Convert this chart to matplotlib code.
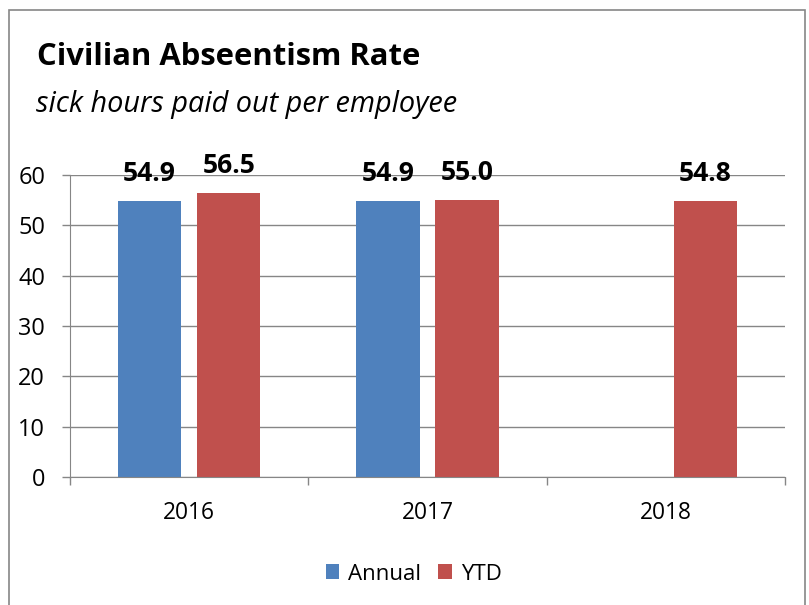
import matplotlib
matplotlib.use("Agg")
import matplotlib.pyplot as plt
from matplotlib.patches import Rectangle
import numpy as np

plt.rcParams['font.family'] = ['Open Sans', 'DejaVu Sans']

categories = ["2016", "2017", "2018"]
annual = [54.9, 54.9, None]
ytd = [56.5, 55.0, 54.8]
series_names = ["Annual", "YTD"]
colors = ["#4F81BD", "#C0504D"]
yticks = [0, 10, 20, 30, 40, 50, 60]

W, H = 809, 605
fig = plt.figure(figsize=(W/100, H/100), dpi=100)
renderer = fig.canvas.get_renderer()


def size_for(s, target_px, **kw):
    t = fig.text(0, 0, s, fontsize=20, **kw)
    w = t.get_window_extent(renderer).width
    t.remove()
    return 20 * target_px / w


fs_title = size_for("Civilian Abseentism Rate", 383, fontweight="bold")
fs_sub = size_for("sick hours paid out per employee", 421, style="italic")
fs_lab = size_for("54.9", 53, fontweight="bold")
fs_ytick = size_for("60", 27)
fs_xtick = size_for("2016", 52)
fs_leg = size_for("Annual", 73)

grey = "#868686"

# outer border
fig.patches.append(Rectangle((9/W, -0.01), (805-9)/W, (H-10)/H + 0.01,
                             transform=fig.transFigure, fill=False,
                             edgecolor=grey, linewidth=1.2))

ax = fig.add_axes([70/W, (H-477)/H, (785-70)/W, (477-175)/H])
x = np.arange(len(categories))
bw = 0.265
off = 0.166
for i, (vals, c) in enumerate(zip([annual, ytd], colors)):
    xs = [xi + (-off if i == 0 else off) for xi, v in zip(x, vals) if v is not None]
    vs = [v for v in vals if v is not None]
    bars = ax.bar(xs, vs, width=bw, color=c, label=series_names[i], zorder=2)
    for b, v in zip(bars, vs):
        ax.annotate(f"{v:.1f}", (b.get_x() + b.get_width()/2, v),
                    xytext=(0, 14.2), textcoords="offset points",
                    ha="center", va="baseline", fontsize=fs_lab, fontweight="bold",
                    zorder=3)

ax.set_xlim(-0.5, 2.5)
ax.set_ylim(0, 60)
ax.set_yticks(yticks)
ax.set_yticklabels([str(t) for t in yticks], fontsize=fs_ytick)
ax.yaxis.grid(True, color=grey, linewidth=1.0, zorder=1)
ax.set_axisbelow(True)
ax.set_xticks([-0.5, 0.5, 1.5, 2.5], minor=False)
ax.set_xticklabels([])
ax.set_xticks(x, minor=True)
ax.set_xticklabels(categories, minor=True, fontsize=fs_xtick)
ax.tick_params(axis="x", which="minor", length=0, pad=17)
ax.tick_params(axis="x", which="major", length=6, color=grey, width=1.0, direction="out")
ax.tick_params(axis="y", length=6, color=grey, width=1.0, direction="out", pad=12)
ax.spines["right"].set_visible(False)
ax.spines["top"].set_visible(False)
ax.spines["left"].set_color(grey)
ax.spines["bottom"].set_color(grey)

fig.text(37/W, 1 - 65/H, "Civilian Abseentism Rate", fontsize=fs_title, fontweight="bold",
         ha="left", va="baseline")
fig.text(36/W, 1 - 112/H, "sick hours paid out per employee", fontsize=fs_sub, style="italic",
         ha="left", va="baseline")

fig.legend(loc="center", bbox_to_anchor=(413.5/W, 1 - 574/H), ncol=2, frameon=False,
           fontsize=fs_leg, handlelength=0.62, handleheight=0.62, handletextpad=0.4,
           columnspacing=0.75)

fig.savefig("out.png", dpi=100)
